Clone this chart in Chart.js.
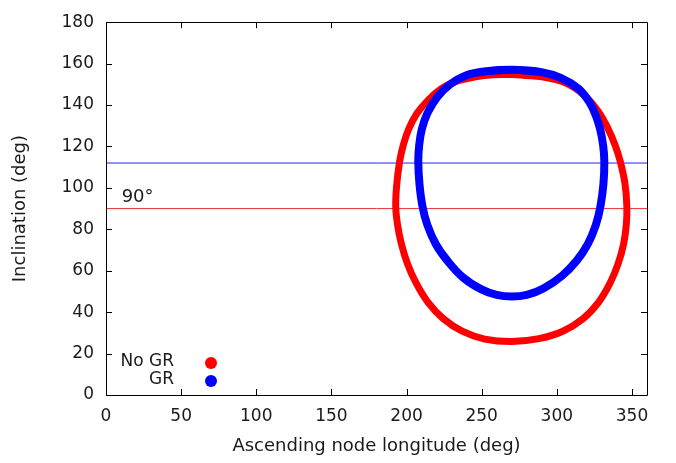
<!DOCTYPE html>
<html>
<head>
<meta charset="utf-8">
<script src="https://cdn.jsdelivr.net/npm/chart.js@4"></script>
<style>
  html, body { margin: 0; padding: 0; background: #fff; }
</style>
</head>
<body>
<canvas id="orbitChart" width="676" height="463"></canvas>
<script>
// values (clockwise from the top of each loop)
const noGrLon = [270, 290, 306, 318.5, 327.5, 334.2, 338.8, 342.2, 345.4, 346.6, 346.2, 344.4, 340.8, 335.4, 327.6, 317.4, 304, 288,
                 270, 252, 237, 224.5, 214.4, 206.4, 200.6, 196.6, 194, 192.8, 193.4, 195.4, 197.8, 201.4, 207, 214.5, 222.5, 232, 246, 258];
const noGrInc = [154.8, 153.6, 150.6, 144.6, 137, 128.4, 120.6, 112.8, 101.8, 91, 82, 72.8, 63.4, 54, 44.6, 36.8, 30.8, 27.2,
                 25.8, 27, 30.8, 36.8, 44.6, 54, 63.4, 72.8, 82.2, 91, 101, 112.8, 120.6, 128.4, 136, 142.5, 147.5, 151.2, 153.6, 154.6];

const grLon = [270, 289, 303, 314.5, 321.6, 326, 328.8, 330.8, 331.6, 331, 329, 326, 320.6, 313.4, 303.5, 291, 280,
               270, 260, 249.5, 237.5, 227, 219.5, 213.8, 210.6, 208.6, 207.8, 208.4, 210.2, 214, 220.6, 229, 239.5, 253];
const grInc = [157, 156, 153, 147.8, 141.5, 134.8, 128.4, 120.6, 112.8, 101.8, 91, 82.2, 72.8, 65, 57.6, 51.4, 48.3,
               47.5, 48.3, 51.1, 56.8, 65, 72.8, 82.2, 91, 101.8, 112.8, 120.6, 128.4, 136.3, 144, 150, 154.3, 156.3];

const refIncNoGr = 90;
const refIncGr = 112;

const xTicks = [0, 50, 100, 150, 200, 250, 300, 350];
const yTicks = [0, 20, 40, 60, 80, 100, 120, 140, 160, 180];

const legendNames = ["No GR", "GR"];
const legendColors = ["#ff0000", "#0000ff"];

const fontName = "DejaVu Sans";
const textColor = "#1a1a1a";

// closed loop: repeat neighbours at both ends so the spline joins smoothly
function loop(lon, inc) {
  const pts = lon.map((x, i) => ({ x: x, y: inc[i] }));
  const n = pts.length;
  return [pts[n - 1]].concat(pts, [pts[0], pts[1]]);
}

const frame = {
  id: "frame",
  afterDatasetsDraw(chart) {
    const ctx = chart.ctx;
    const a = chart.chartArea;
    const xs = chart.scales.x, ys = chart.scales.y;
    ctx.save();
    ctx.strokeStyle = "#000";
    ctx.lineWidth = 1;
    ctx.beginPath();
    ctx.rect(Math.round(a.left) + 0.5, Math.round(a.top) + 0.5,
             Math.round(a.right - a.left), Math.round(a.bottom - a.top));
    ctx.stroke();
    // inward ticks on all four sides
    ctx.beginPath();
    xTicks.forEach(v => {
      const px = Math.round(xs.getPixelForValue(v)) + 0.5;
      ctx.moveTo(px, a.bottom); ctx.lineTo(px, a.bottom - 6);
      ctx.moveTo(px, a.top); ctx.lineTo(px, a.top + 6);
    });
    yTicks.forEach(v => {
      const py = Math.round(ys.getPixelForValue(v)) + 0.5;
      ctx.moveTo(a.left, py); ctx.lineTo(a.left + 6, py);
      ctx.moveTo(a.right, py); ctx.lineTo(a.right - 6, py);
    });
    ctx.stroke();

    // 90 degree label
    ctx.fillStyle = textColor;
    ctx.font = "18px '" + fontName + "'";
    ctx.textAlign = "left";
    ctx.textBaseline = "alphabetic";
    ctx.fillText("90°", xs.getPixelForValue(10.4), ys.getPixelForValue(93.2));

    // key in the lower left corner
    ctx.font = "17px '" + fontName + "'";
    ctx.textAlign = "right";
    ctx.textBaseline = "middle";
    legendNames.forEach((name, i) => {
      const y = 362 + i * 18;
      ctx.fillStyle = textColor;
      ctx.fillText(name, 174, y);
      ctx.fillStyle = legendColors[i];
      ctx.beginPath();
      ctx.arc(211, y + 1, 6, 0, Math.PI * 2);
      ctx.fill();
    });
    ctx.restore();
  }
};

const ctx = document.getElementById("orbitChart").getContext("2d");
const orbitChart = new Chart(ctx, {
  type: "scatter",
  data: {
    datasets: [
      {
        label: "GR",
        data: loop(grLon, grInc),
        showLine: true,
        borderColor: "#0000ff",
        borderWidth: 8,
        pointRadius: 0,
        tension: 0.4,
        fill: false
      },
      {
        label: "No GR",
        data: loop(noGrLon, noGrInc),
        showLine: true,
        borderColor: "#ff0000",
        borderWidth: 7,
        pointRadius: 0,
        tension: 0.4,
        fill: false
      },
      {
        label: "GR level",
        data: [{ x: 0, y: refIncGr }, { x: 360, y: refIncGr }],
        showLine: true,
        borderColor: "#2222ff",
        borderWidth: 1,
        pointRadius: 0
      },
      {
        label: "90",
        data: [{ x: 0, y: refIncNoGr }, { x: 360, y: refIncNoGr }],
        showLine: true,
        borderColor: "#e83030",
        borderWidth: 1,
        pointRadius: 0
      }
    ]
  },
  options: {
    responsive: false,
    animation: false,
    layout: { padding: { left: 0, right: 29, top: 12, bottom: 0 } },
    plugins: {
      legend: { display: false },
      tooltip: { enabled: false }
    },
    scales: {
      x: {
        type: "linear",
        min: 0,
        max: 360,
        afterBuildTicks: s => { s.ticks = xTicks.map(v => ({ value: v })); },
        afterFit: s => { s.height = 68; },
        grid: { display: false, drawTicks: false },
        border: { display: false },
        ticks: { padding: 11, color: textColor, font: { family: fontName, size: 17 } },
        title: {
          display: true,
          text: "Ascending node longitude (deg)",
          color: textColor,
          font: { family: fontName, size: 18 },
          padding: { top: 0, bottom: 6 }
        }
      },
      y: {
        type: "linear",
        min: 0,
        max: 180,
        afterBuildTicks: s => { s.ticks = yTicks.map(v => ({ value: v })); },
        afterFit: s => { s.width = 106; },
        grid: { display: false, drawTicks: false },
        border: { display: false },
        ticks: { padding: 12, color: textColor, font: { family: fontName, size: 17 } },
        title: {
          display: true,
          text: "Inclination (deg)",
          color: textColor,
          font: { family: fontName, size: 18 },
          padding: { top: 10, bottom: 0 }
        }
      }
    }
  },
  plugins: [frame]
});
</script>
</body>
</html>
